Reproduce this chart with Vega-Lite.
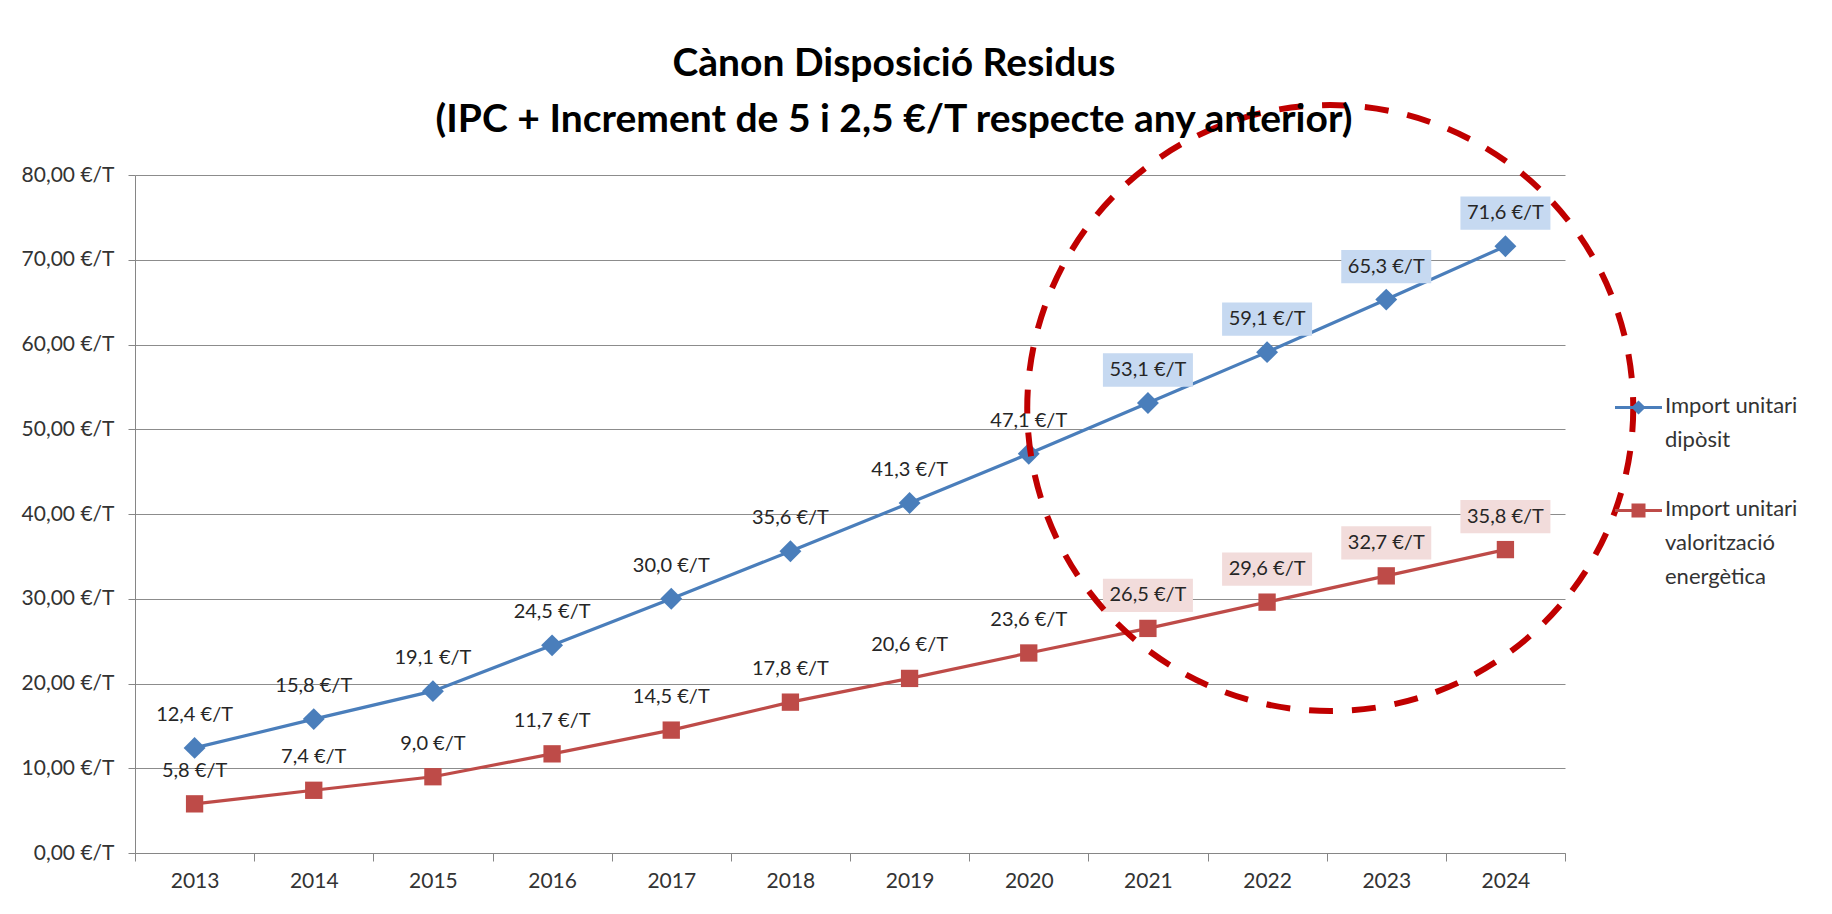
{
  "$schema": "https://vega.github.io/schema/vega-lite/v6.json",
  "width": 1430,
  "height": 678,
  "autosize": {"type": "none"},
  "padding": {"left": 135, "top": 175, "right": 267, "bottom": 61},
  "background": "white",
  "config": {
    "locale": {"number": {"decimal": ",", "thousands": ".", "grouping": [3], "currency": ["", " €/T"]}},
    "font": "Lato",
    "view": {"stroke": null},
    "axis": {"titleFontSize": 0}
  },
  "title": {
    "text": ["Cànon Disposició Residus", "(IPC + Increment de 5 i 2,5 €/T respecte any anterior)"],
    "fontSize": 39,
    "font": "Lato",
    "fontWeight": "bold",
    "color": "#000000",
    "lineHeight": 56,
    "anchor": "middle",
    "dx": 44,
    "dy": 41,
    "offset": -6
  },
  "datasets": {
    "canon": [
      {"year": 2013, "serie": "Import unitari dipòsit", "value": 12.4},
      {"year": 2014, "serie": "Import unitari dipòsit", "value": 15.8},
      {"year": 2015, "serie": "Import unitari dipòsit", "value": 19.1},
      {"year": 2016, "serie": "Import unitari dipòsit", "value": 24.5},
      {"year": 2017, "serie": "Import unitari dipòsit", "value": 30.0},
      {"year": 2018, "serie": "Import unitari dipòsit", "value": 35.6},
      {"year": 2019, "serie": "Import unitari dipòsit", "value": 41.3},
      {"year": 2020, "serie": "Import unitari dipòsit", "value": 47.1},
      {"year": 2021, "serie": "Import unitari dipòsit", "value": 53.1},
      {"year": 2022, "serie": "Import unitari dipòsit", "value": 59.1},
      {"year": 2023, "serie": "Import unitari dipòsit", "value": 65.3},
      {"year": 2024, "serie": "Import unitari dipòsit", "value": 71.6},
      {"year": 2013, "serie": "Import unitari valorització energètica", "value": 5.8},
      {"year": 2014, "serie": "Import unitari valorització energètica", "value": 7.4},
      {"year": 2015, "serie": "Import unitari valorització energètica", "value": 9.0},
      {"year": 2016, "serie": "Import unitari valorització energètica", "value": 11.7},
      {"year": 2017, "serie": "Import unitari valorització energètica", "value": 14.5},
      {"year": 2018, "serie": "Import unitari valorització energètica", "value": 17.8},
      {"year": 2019, "serie": "Import unitari valorització energètica", "value": 20.6},
      {"year": 2020, "serie": "Import unitari valorització energètica", "value": 23.6},
      {"year": 2021, "serie": "Import unitari valorització energètica", "value": 26.5},
      {"year": 2022, "serie": "Import unitari valorització energètica", "value": 29.6},
      {"year": 2023, "serie": "Import unitari valorització energètica", "value": 32.7},
      {"year": 2024, "serie": "Import unitari valorització energètica", "value": 35.8}
    ],
    "focus": [
      {"year": 2023, "value": 52.5}
    ]
  },
  "data": {"name": "canon"},
  "encoding": {
    "x": {
      "field": "year",
      "type": "ordinal",
      "scale": {"type": "band", "paddingInner": 0, "paddingOuter": 0},
      "axis": {
        "title": null,
        "labelAngle": 0,
        "labelFontSize": 21,
        "labelColor": "#333333",
        "labelPadding": 9,
        "tickBand": "extent",
        "tickSize": 8,
        "tickColor": "#868686",
        "domainColor": "#868686",
        "grid": false
      }
    },
    "y": {
      "field": "value",
      "type": "quantitative",
      "scale": {"domain": [0, 80]},
      "axis": {
        "title": null,
        "values": [0, 10, 20, 30, 40, 50, 60, 70, 80],
        "format": "$.2f",
        "labelFontSize": 21,
        "labelColor": "#333333",
        "labelPadding": 14,
        "tickSize": 7,
        "tickColor": "#868686",
        "domainColor": "#868686",
        "grid": true,
        "gridColor": "#8c8c8c",
        "gridWidth": 1
      }
    }
  },
  "layer": [
    {
      "mark": {"type": "line", "strokeWidth": 3.2},
      "encoding": {
        "color": {
          "field": "serie",
          "type": "nominal",
          "scale": {"domain": ["Import unitari dipòsit", "Import unitari valorització energètica"], "range": ["#4a7ebb", "#be4b48"]},
          "legend": {
            "title": null,
            "orient": "none",
            "legendX": 1492,
            "legendY": 221,
            "padding": 0,
            "labelFontSize": 22,
            "labelColor": "#333333",
            "labelLimit": 0,
            "labelOffset": 15,
            "labelBaseline": "top",
            "rowPadding": 46,
            "symbolSize": 400,
            "symbolStrokeWidth": 3,
            "labelExpr": "datum.value == 'Import unitari dipòsit' ? ['Import unitari', 'dipòsit'] : ['Import unitari', 'valorització', 'energètica']",
            "encode": {
              "symbols": {
                "update": {
                  "shape": {"signal": "datum.value == 'Import unitari dipòsit' ? 'M-2.35,0H2.35M0,-0.5L0.5,0L0,0.5L-0.5,0Z' : 'M-2.35,0H2.35M-0.55,-0.55H0.55V0.55H-0.55Z'"},
                  "fill": {"signal": "scale('color', datum.value)"},
                  "stroke": {"signal": "scale('color', datum.value)"},
                  "strokeWidth": {"value": 3},
                  "size": {"value": 400},
                  "opacity": {"value": 1}
                }
              },
              "labels": {
                "update": {
                  "lineHeight": {"value": 34},
                  "dy": {"value": -12}
                }
              }
            }
          }
        }
      }
    },
    {
      "mark": {"type": "point", "filled": true, "opacity": 1, "strokeWidth": 0},
      "encoding": {
        "color": {"field": "serie", "type": "nominal"},
        "shape": {"field": "serie", "type": "nominal", "scale": {"range": ["diamond", "square"]}, "legend": null},
        "size": {"field": "serie", "type": "nominal", "scale": {"range": [480, 300]}, "legend": null}
      }
    },
    {
      "transform": [{"filter": "datum.year >= 2021"}],
      "mark": {"type": "point", "filled": true, "opacity": 1, "strokeWidth": 0, "shape": "M-1,-0.37H1V0.37H-1Z", "size": 8100},
      "encoding": {
        "yOffset": {"value": -33},
        "fill": {
          "condition": {"test": "datum.serie == 'Import unitari dipòsit'", "value": "#c6d9f1"},
          "value": "#f2dcdb"
        }
      }
    },
    {
      "mark": {"type": "text", "fontSize": 20, "color": "#262626", "baseline": "middle", "align": "center"},
      "encoding": {
        "yOffset": {"value": -33},
        "text": {"field": "value", "type": "quantitative", "format": "$.1f"}
      }
    },
    {
      "data": {"name": "focus"},
      "mark": {"type": "point", "shape": "circle", "filled": false, "opacity": 1, "color": "#c00000", "strokeWidth": 6, "strokeDash": [24, 19], "size": 367236},
      "encoding": {
        "x": {"field": "year", "type": "ordinal", "bandPosition": 0.03},
        "y": {"field": "value", "type": "quantitative"}
      }
    }
  ]
}
